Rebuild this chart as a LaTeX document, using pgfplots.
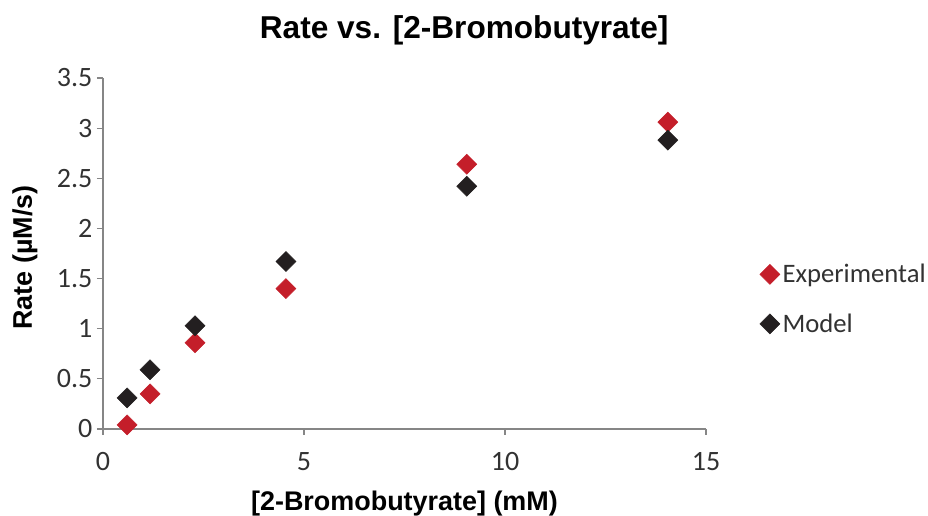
\documentclass[border=0pt]{standalone}
\usepackage{pgfplots}
\pgfplotsset{compat=1.18}
\usepackage{fontspec}
\setmainfont{Liberation Sans}
\newfontfamily\carlito{Carlito}
\definecolor{expred}{RGB}{196,30,42}
\definecolor{modblk}{RGB}{35,31,32}
\definecolor{axgray}{RGB}{134,134,134}
\definecolor{txtgray}{RGB}{50,50,50}
\begin{document}
\begin{tikzpicture}
\useasboundingbox (-77.25pt,-65.25pt) rectangle (618.75pt,321.75pt);
\begin{axis}[
  at={(0,0)}, anchor=south west,
  scale only axis,
  width=452.25pt, height=263.25pt,
  xmin=0, xmax=15, ymin=0, ymax=3.5,
  xtick={0,5,10,15},
  ytick={0,0.5,1,1.5,2,2.5,3,3.5},
  axis x line=bottom, axis y line=left,
  axis line style={-, axgray, line width=0.9pt},
  tick style={axgray, line width=0.9pt},
  tick align=outside,
  major tick length=4.5pt,
  minor tick num=0,
  clip=false,
  /pgf/number format/assume math mode=true,
  ticklabel style={font=\carlito\fontsize{21}{23}\selectfont, text=txtgray},
  xticklabel style={yshift=-9.5pt},
  title={Rate vs. [2-Bromobutyrate]},
  title style={at={(axis description cs:0.599,1.114)}, anchor=center, font=\bfseries\fontsize{23.7}{26}\selectfont},
  xlabel={[2-Bromobutyrate] (mM)},
  xlabel style={at={(axis description cs:0.5,-0.211)}, anchor=center, font=\bfseries\fontsize{20.2}{24}\selectfont},
  ylabel={Rate (µM/s)},
  ylabel style={at={(axis description cs:-0.1294,0.4886)}, anchor=center, font=\bfseries\fontsize{20.2}{24}\selectfont},
  legend style={at={(axis description cs:1.089,0.370)}, anchor=west, draw=none, fill=none, inner sep=0pt,
    font=\carlito\fontsize{20}{22}\selectfont, text=txtgray, row sep=17.75pt,
    /tikz/every even column/.append style={column sep=0pt}},
  legend cell align=left,
  legend image post style={xshift=-1pt},
]
\addplot[only marks, mark=square*, mark size=5.3pt, mark options={rotate=45, fill=expred, draw=expred}, color=expred]
  coordinates {(0.6,0.04) (1.17,0.35) (2.29,0.86) (4.55,1.40) (9.05,2.64) (14.05,3.06)};
\addlegendentry{Experimental}
\addplot[only marks, mark=square*, mark size=5.3pt, mark options={rotate=45, fill=modblk, draw=modblk}, color=modblk]
  coordinates {(0.6,0.31) (1.17,0.59) (2.29,1.03) (4.55,1.67) (9.05,2.42) (14.05,2.88)};
\addlegendentry{Model}
\end{axis}
\end{tikzpicture}
\end{document}
